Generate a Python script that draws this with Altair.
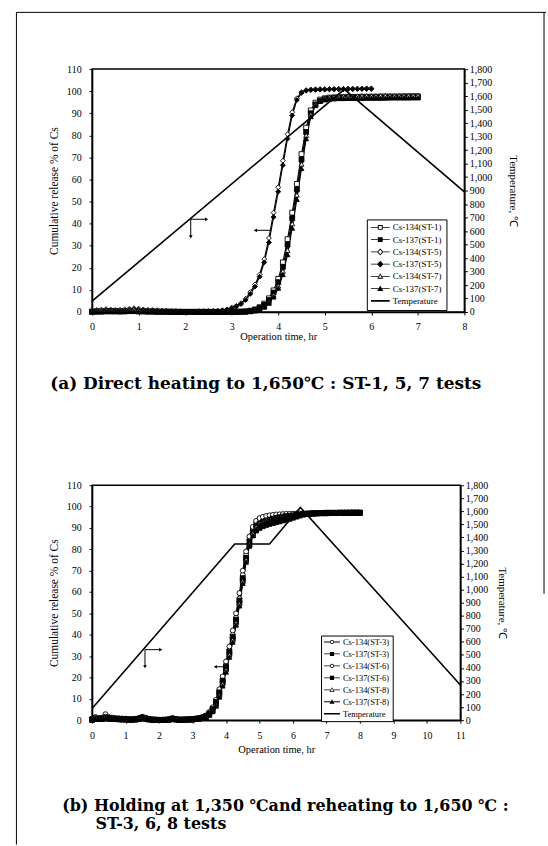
import math
import altair as alt
import pandas as pd

SERIF = "Liberation Serif"
BOLD_SERIF = "DejaVu Serif"

# ---------------- panel (a) data: direct heating ----------------
TIME_A = [0.0, 0.1, 0.2, 0.3, 0.4, 0.5, 0.6, 0.7, 0.8, 0.9,
          1.0, 1.1, 1.2, 1.3, 1.4, 1.5, 1.6, 1.7, 1.8, 1.9,
          2.0, 2.1, 2.2, 2.3, 2.4, 2.5, 2.6, 2.7, 2.8, 2.9,
          3.0, 3.1, 3.2, 3.3, 3.4, 3.5, 3.6, 3.7, 3.8, 3.9,
          4.0, 4.1, 4.2, 4.3, 4.4, 4.5, 4.6, 4.7, 4.8, 4.9,
          5.0, 5.1, 5.2, 5.3, 5.4, 5.5, 5.6, 5.7, 5.8, 5.9,
          6.0, 6.1, 6.2, 6.3, 6.4, 6.5, 6.6, 6.7, 6.8, 6.9, 7.0]

A_CS134_ST1 = [0.2, 0.3, 0.4, 0.5, 0.5, 0.4, 0.4, 0.5, 0.6, 0.6,
               0.5, 0.4, 0.3, 0.3, 0.2, 0.2, 0.2, 0.1, 0.1, 0.1,
               0.1, 0.1, 0.1, 0.1, 0.1, 0.1, 0.1, 0.1, 0.1, 0.1,
               0.1, 0.2, 0.2, 0.3, 0.6, 1.2, 2.2, 3.8, 6.2, 9.8,
               15.0, 22.5, 33.0, 45.0, 58.0, 71.5, 83.5, 91.3, 94.8, 96.2,
               96.8, 97.1, 97.2, 97.3, 97.3, 97.4, 97.4, 97.4, 97.5, 97.5,
               97.5, 97.5, 97.6, 97.6, 97.6, 97.6, 97.6, 97.7, 97.7, 97.7, 97.7]
A_CS137_ST1 = [0.1, 0.2, 0.2, 0.3, 0.3, 0.3, 0.2, 0.3, 0.4, 0.4,
               0.3, 0.3, 0.2, 0.2, 0.1, 0.1, 0.1, 0.1, 0.1, 0.0,
               0.0, 0.0, 0.0, 0.0, 0.0, 0.0, 0.0, 0.0, 0.0, 0.0,
               0.0, 0.1, 0.1, 0.2, 0.4, 0.9, 1.8, 3.2, 5.4, 8.8,
               13.5, 20.5, 30.5, 42.5, 55.5, 69.0, 81.5, 90.0, 94.0, 95.6,
               96.3, 96.6, 96.8, 96.9, 96.9, 97.0, 97.0, 97.0, 97.1, 97.1,
               97.1, 97.1, 97.1, 97.2, 97.2, 97.2, 97.2, 97.2, 97.2, 97.3, 97.3]
A_CS134_ST5 = [0.6, 0.9, 1.1, 1.3, 1.1, 0.9, 1.0, 1.2, 1.4, 1.7,
               1.5, 1.2, 1.0, 0.9, 0.8, 0.6, 0.5, 0.5, 0.4, 0.4,
               0.3, 0.3, 0.3, 0.4, 0.4, 0.5, 0.5, 0.6, 0.8, 1.2,
               2.0, 2.8, 4.0, 6.0, 9.0, 12.5, 17.0, 24.0, 33.5, 45.0,
               56.5, 68.5, 80.5, 90.5, 96.8, 99.6, 100.5, 100.8, 100.9, 101.0,
               101.0, 101.0, 101.1, 101.1, 101.1, 101.2, 101.2, 101.2, 101.2, 101.3,
               101.3]
A_CS137_ST5 = [0.3, 0.5, 0.6, 0.8, 0.7, 0.6, 0.6, 0.7, 0.9, 1.1,
               1.0, 0.8, 0.6, 0.5, 0.5, 0.4, 0.3, 0.3, 0.3, 0.2,
               0.2, 0.2, 0.2, 0.3, 0.3, 0.3, 0.4, 0.5, 0.7, 1.0,
               1.7, 2.5, 3.6, 5.4, 8.2, 11.5, 16.0, 22.5, 31.5, 43.0,
               54.5, 66.5, 78.5, 89.0, 96.0, 99.2, 100.2, 100.5, 100.6, 100.7,
               100.7, 100.8, 100.8, 100.8, 100.9, 100.9, 100.9, 101.0, 101.0, 101.0,
               101.0]
A_CS134_ST7 = [0.4, 0.6, 0.7, 0.9, 0.8, 0.7, 0.7, 0.8, 1.0, 1.2,
               1.0, 0.8, 0.6, 0.5, 0.4, 0.3, 0.3, 0.2, 0.2, 0.2,
               0.1, 0.1, 0.1, 0.1, 0.1, 0.1, 0.1, 0.0, 0.0, 0.0,
               0.0, 0.0, 0.1, 0.1, 0.3, 0.7, 1.4, 2.6, 4.6, 7.6,
               11.8, 18.5, 28.0, 40.0, 53.0, 67.0, 80.0, 89.5, 94.2, 96.0,
               96.9, 97.3, 97.5, 97.6, 97.7, 97.8, 97.8, 97.8, 97.9, 97.9,
               97.9, 97.9, 98.0, 98.0, 98.0, 98.0, 98.0, 98.0, 98.1, 98.1, 98.1]
A_CS137_ST7 = [0.0, 0.1, 0.1, 0.2, 0.2, 0.2, 0.2, 0.2, 0.3, 0.3,
               0.2, 0.2, 0.1, 0.1, 0.1, 0.1, 0.0, 0.0, 0.0, 0.0,
               0.0, 0.0, 0.0, 0.0, 0.0, 0.0, 0.0, 0.0, 0.0, 0.0,
               0.0, 0.0, 0.0, 0.1, 0.2, 0.5, 1.1, 2.2, 4.0, 6.8,
               10.8, 17.0, 26.0, 38.0, 51.0, 65.0, 78.5, 88.5, 93.5, 95.5,
               96.2, 96.5, 96.6, 96.7, 96.7, 96.8, 96.8, 96.8, 96.8, 96.9,
               96.9, 96.9, 96.9, 96.9, 97.0, 97.0, 97.0, 97.0, 97.0, 97.0, 97.0]

TEMP_A_TIME = [0.0, 5.42, 8.0]
TEMP_A_VALUE = [80, 1650, 890]

ARROW_A_X0 = [2.12, 2.12, 3.85]
ARROW_A_X1 = [2.46, 2.12, 3.51]
ARROW_A_Y0 = [42, 42, 37]
ARROW_A_Y1 = [42, 34, 37]
ARROW_A_DIR = ["right", "down", "left"]

# ---------------- panel (b) data: holding and reheating ----------------
TIME_B = [0.0, 0.1, 0.2, 0.3, 0.4, 0.5, 0.6, 0.7, 0.8, 0.9,
          1.0, 1.1, 1.2, 1.3, 1.4, 1.5, 1.6, 1.7, 1.8, 1.9,
          2.0, 2.1, 2.2, 2.3, 2.4, 2.5, 2.6, 2.7, 2.8, 2.9,
          3.0, 3.1, 3.2, 3.3, 3.4, 3.5, 3.6, 3.7, 3.8, 3.9,
          4.0, 4.1, 4.2, 4.3, 4.4, 4.5, 4.6, 4.7, 4.8, 4.9,
          5.0, 5.1, 5.2, 5.3, 5.4, 5.5, 5.6, 5.7, 5.8, 5.9,
          6.0, 6.1, 6.2, 6.3, 6.4, 6.5, 6.6, 6.7, 6.8, 6.9,
          7.0, 7.1, 7.2, 7.3, 7.4, 7.5, 7.6, 7.7, 7.8, 7.9, 8.0]

B_CS134_ST3 = [0.8, 1.5, 1.0, 1.2, 2.8, 1.5, 1.2, 1.0, 0.9, 0.8,
               0.7, 0.5, 0.5, 0.6, 1.0, 1.6, 1.2, 0.6, 0.4, 0.3,
               0.2, 0.2, 0.3, 0.5, 1.0, 0.6, 0.3, 0.3, 0.4, 0.5,
               0.6, 0.8, 1.0, 1.4, 2.0, 3.2, 5.2, 8.5, 13.5, 19.0,
               26.0, 33.0, 40.0, 48.0, 57.0, 68.0, 77.5, 84.5, 89.5, 92.5,
               93.8, 94.5, 95.0, 95.3, 95.6, 95.8, 96.0, 96.1, 96.2, 96.3,
               96.4, 96.5, 96.6, 96.6, 96.7, 96.7, 96.7, 96.8, 96.8, 96.8,
               96.8, 96.9, 96.9, 96.9, 96.9, 96.9, 97.0, 97.0, 97.0, 97.0, 97.0]
B_CS137_ST3 = [0.3, 0.8, 0.6, 0.7, 1.2, 0.9, 0.7, 0.6, 0.5, 0.4,
               0.4, 0.3, 0.3, 0.4, 0.7, 1.2, 0.8, 0.4, 0.2, 0.2,
               0.1, 0.1, 0.2, 0.3, 0.7, 0.4, 0.2, 0.2, 0.3, 0.3,
               0.4, 0.6, 0.8, 1.1, 1.6, 2.6, 4.5, 7.5, 12.0, 17.5,
               24.0, 31.0, 38.0, 46.0, 55.0, 65.5, 75.0, 82.0, 86.5, 88.8,
               90.0, 90.8, 91.4, 91.9, 92.3, 92.7, 93.1, 93.5, 93.9, 94.3,
               94.8, 95.3, 95.8, 96.2, 96.5, 96.7, 96.8, 96.9, 97.0, 97.0,
               97.1, 97.1, 97.1, 97.1, 97.2, 97.2, 97.2, 97.2, 97.2, 97.2, 97.2]
B_CS134_ST6 = [0.5, 1.0, 0.8, 0.9, 1.6, 1.1, 0.9, 0.8, 0.7, 0.6,
               0.5, 0.4, 0.4, 0.5, 0.8, 1.3, 1.0, 0.5, 0.3, 0.2,
               0.2, 0.2, 0.2, 0.4, 0.8, 0.5, 0.3, 0.3, 0.3, 0.4,
               0.5, 0.7, 0.9, 1.3, 2.2, 3.8, 6.0, 9.5, 14.5, 20.5,
               27.5, 34.5, 42.0, 50.0, 59.5, 70.0, 79.0, 86.0, 90.5, 93.3,
               94.6, 95.2, 95.6, 95.9, 96.1, 96.3, 96.4, 96.5, 96.6, 96.6,
               96.7, 96.7, 96.8, 96.8, 96.8, 96.8, 96.9, 96.9, 96.9, 96.9,
               96.9, 96.9, 97.0, 97.0, 97.0, 97.0, 97.0, 97.0, 97.0, 97.0, 97.0]
B_CS137_ST6 = [0.2, 0.6, 0.5, 0.6, 1.0, 0.8, 0.6, 0.5, 0.4, 0.3,
               0.3, 0.2, 0.2, 0.3, 0.6, 1.0, 0.7, 0.3, 0.2, 0.1,
               0.1, 0.1, 0.1, 0.2, 0.5, 0.3, 0.2, 0.2, 0.2, 0.3,
               0.4, 0.6, 0.8, 1.2, 1.9, 3.2, 5.2, 8.5, 13.0, 18.5,
               25.0, 32.0, 39.0, 47.0, 56.0, 66.5, 76.0, 83.5, 88.0, 90.8,
               92.0, 92.8, 93.4, 93.9, 94.3, 94.7, 95.0, 95.3, 95.5, 95.7,
               95.9, 96.1, 96.3, 96.5, 96.6, 96.7, 96.8, 96.8, 96.9, 96.9,
               96.9, 97.0, 97.0, 97.0, 97.0, 97.0, 97.0, 97.1, 97.1, 97.1, 97.1]
B_CS134_ST8 = [0.4, 0.9, 0.7, 0.8, 1.4, 1.0, 0.8, 0.7, 0.6, 0.5,
               0.4, 0.3, 0.3, 0.4, 0.7, 1.1, 0.8, 0.4, 0.2, 0.2,
               0.1, 0.1, 0.2, 0.3, 0.6, 0.4, 0.2, 0.2, 0.2, 0.3,
               0.3, 0.5, 0.7, 1.0, 1.5, 2.6, 4.4, 7.2, 11.5, 17.0,
               23.5, 30.5, 37.5, 45.5, 54.5, 65.0, 75.0, 82.5, 87.5, 90.5,
               92.0, 92.9, 93.5, 94.0, 94.4, 94.8, 95.1, 95.4, 95.6, 95.8,
               96.0, 96.2, 96.4, 96.5, 96.6, 96.7, 96.7, 96.8, 96.8, 96.8,
               96.9, 96.9, 96.9, 96.9, 96.9, 97.0, 97.0, 97.0, 97.0, 97.0, 97.0]
B_CS137_ST8 = [0.1, 0.5, 0.4, 0.5, 0.8, 0.6, 0.5, 0.4, 0.3, 0.3,
               0.2, 0.2, 0.2, 0.2, 0.5, 0.8, 0.6, 0.3, 0.1, 0.1,
               0.1, 0.1, 0.1, 0.2, 0.4, 0.2, 0.1, 0.1, 0.2, 0.2,
               0.2, 0.4, 0.6, 0.9, 1.3, 2.3, 4.0, 6.6, 10.8, 16.0,
               22.5, 29.5, 36.5, 44.5, 53.5, 64.0, 74.0, 81.5, 86.5, 89.5,
               91.2, 92.2, 92.9, 93.5, 94.0, 94.4, 94.8, 95.1, 95.4, 95.7,
               95.9, 96.1, 96.3, 96.4, 96.5, 96.6, 96.7, 96.7, 96.8, 96.8,
               96.8, 96.8, 96.9, 96.9, 96.9, 96.9, 96.9, 96.9, 97.0, 97.0, 97.0]

TEMP_B_TIME = [0.0, 4.26, 5.30, 6.22, 11.0]
TEMP_B_VALUE = [90, 1350, 1350, 1630, 270]

ARROW_B_X0 = [1.58, 1.58, 4.05]
ARROW_B_X1 = [2.05, 1.58, 3.68]
ARROW_B_Y0 = [33, 33, 25]
ARROW_B_Y1 = [33, 25, 25]
ARROW_B_DIR = ["right", "down", "left"]

LABELS_A = ["Cs-134(ST-1)", "Cs-137(ST-1)", "Cs-134(ST-5)", "Cs-137(ST-5)",
            "Cs-134(ST-7)", "Cs-137(ST-7)", "Temperature"]
LABELS_B = ["Cs-134(ST-3)", "Cs-137(ST-3)", "Cs-134(ST-6)", "Cs-137(ST-6)",
            "Cs-134(ST-8)", "Cs-137(ST-8)", "Temperature"]
MARKERS_A = [("square", False), ("square", True), ("diamond", False), ("diamond", True),
             ("triangle", False), ("triangle", True)]
MARKERS_B = [("circle", False), ("square", True), ("circle", False), ("square", True),
             ("triangle", False), ("triangle", True)]

TITLE_A = "(a) Direct heating to 1,650\u2103 : ST-1, 5, 7 tests"
TITLE_B = ["(b) Holding at 1,350 \u2103and reheating to 1,650 \u2103 :",
           "\u200b" + "\u00a0" * 6 + "ST-3, 6, 8 tests"]


# ---------------- helpers ----------------
def long_frame(times, series, names):
    rows = []
    for vals, name in zip(series, names):
        for t, v in zip(times, vals):
            rows.append({"t": t, "v": v, "s": name})
    return pd.DataFrame(rows)


def fmt(p):
    return "%.3f,%.3f" % p


def poly(points):
    return "M" + "L".join(fmt(p) for p in points) + "Z"


def marker_outline(kind, s):
    if kind == "square":
        return [(-s, -s), (s, -s), (s, s), (-s, s)]
    if kind == "diamond":
        d = s * 1.35
        return [(0, -d), (d, 0), (0, d), (-d, 0)]
    if kind == "triangle":
        a = s * 1.25
        return [(0, -a), (a, 0.75 * a), (-a, 0.75 * a)]
    n = 16
    return [(s * math.cos(2 * math.pi * i / n), s * math.sin(2 * math.pi * i / n)) for i in range(n)]


def legend_path(kind, filled, m=0.26, h=0.05, k=0.1):
    if kind == "line":
        return "M-1,-0.09H1V0.09H-1Z"
    outer = marker_outline(kind, m)
    ext = max(abs(p[0]) for p in outer)
    if kind == "triangle":
        ext = ext * 0.6
    path = "M-1,%.3fH%.3fV%.3fH-1Z" % (-h, -ext, h)
    path += "M%.3f,%.3fH1V%.3fH%.3fZ" % (ext, -h, h, ext)
    path += poly(outer)
    if not filled:
        cx = sum(p[0] for p in outer) / len(outer)
        cy = sum(p[1] for p in outer) / len(outer)
        f = (m - k) / m
        if kind == "triangle":
            f = 0.55
        inner = [(cx + (p[0] - cx) * f, cy + (p[1] - cy) * f) for p in outer]
        path += poly(list(reversed(inner)))
    return path


POINT_SHAPE = {"square": "square", "diamond": "diamond", "triangle": "triangle-up", "circle": "circle"}


def panel(times, series, labels, markers, temp_t, temp_v, arrows, xmax, w, h,
          leg, xtitle_pad, rtitle_pad, title, frame=False):
    names = labels[:-1]
    df = long_frame(times, series, names)
    temp_df = pd.DataFrame({"t": temp_t, "temp": temp_v})
    ax0, ax1, ay0, ay1, adir = arrows
    arr_df = pd.DataFrame({"x0": ax0, "x1": ax1, "y0": ay0, "y1": ay1, "dir": adir})

    xscale = alt.Scale(domain=[0, xmax], nice=False, zero=False)
    xaxis = alt.Axis(values=list(range(0, xmax + 1)), title="Operation time, hr",
                     titlePadding=xtitle_pad, labelPadding=7, labelFlush=False)
    yscale = alt.Scale(domain=[0, 110], nice=False)
    yaxis = alt.Axis(values=list(range(0, 111, 10)), title="Cumulative release % of Cs",
                     orient="left", labelPadding=8, titlePadding=7, titleFontSize=11.5)

    def X(f):
        return alt.X(f, type="quantitative", scale=xscale, axis=xaxis)

    def Y(f):
        return alt.Y(f, type="quantitative", scale=yscale, axis=yaxis)

    lines = alt.Chart(df).mark_line(color="black", strokeWidth=1.1).encode(
        x=X("t"), y=Y("v"), detail="s:N")
    pts = alt.Chart(df).mark_point(filled=True, stroke="black", strokeWidth=0.9,
                                   size=24, opacity=1).encode(
        x=X("t"), y=Y("v"),
        shape=alt.Shape("s:N", scale=alt.Scale(domain=names,
                        range=[POINT_SHAPE[k] for k, _ in markers]), legend=None),
        fill=alt.Fill("s:N", scale=alt.Scale(domain=names,
                      range=["black" if f else "white" for _, f in markers]), legend=None))
    arr = alt.Chart(arr_df).mark_rule(color="black", strokeWidth=1).encode(
        x=X("x0"), x2="x1", y=Y("y0"), y2="y1")
    tips = []
    for d, shp in [("right", "triangle-right"), ("down", "triangle-down"), ("left", "triangle-left")]:
        tips.append(alt.Chart(arr_df).transform_filter(alt.datum.dir == d).mark_point(
            shape=shp, filled=True, color="black", size=14, opacity=1).encode(
            x=X("x1"), y=Y("y1")))

    left_layers = [lines, pts, arr] + tips
    if frame:
        one = alt.Data(values=[{}])
        left_layers += [
            alt.Chart(one).mark_rule(color="black", strokeWidth=1).encode(
                x=alt.value(-76), y=alt.value(-57), y2=alt.value(779)),
            alt.Chart(one).mark_rule(color="black", strokeWidth=1).encode(
                x=alt.value(-76), x2=alt.value(456), y=alt.value(-57)),
            alt.Chart(one).mark_rule(color="black", strokeWidth=1).encode(
                x=alt.value(454), y=alt.value(-57), y2=alt.value(527)),
        ]
    left = alt.layer(*left_layers)

    temp_line = alt.Chart(temp_df).mark_line(color="black", strokeWidth=1.6).encode(
        x=X("t"),
        y=alt.Y("temp:Q", scale=alt.Scale(domain=[0, 1800], nice=False),
                axis=alt.Axis(orient="right", values=list(range(0, 1801, 100)), format=",d",
                              title="Temperature, \u2103", labelPadding=2,
                              titlePadding=rtitle_pad, titleFontSize=11)))
    paths = [legend_path(k, f) for k, f in markers] + [legend_path("line", True)]
    dummy = alt.Chart(temp_df).transform_filter("false").mark_point(
        filled=True, color="black", size=leg["size"], opacity=1).encode(
        shape=alt.Shape("lbl:N", scale=alt.Scale(domain=labels, range=paths),
                        legend=alt.Legend(title=None, orient="none", legendX=leg["x"],
                                          legendY=leg["y"], clipHeight=leg["clip"],
                                          rowPadding=leg["row"], padding=leg["pad"],
                                          strokeColor="black", fillColor="white",
                                          labelFont=SERIF, labelFontSize=leg["font"],
                                          labelColor="black", labelOffset=3,
                                          symbolSize=leg["size"], symbolStrokeWidth=0,
                                          symbolFillColor="black", symbolOffset=0)))
    right = alt.layer(temp_line, dummy)
    return alt.layer(left, right).resolve_scale(y="independent", shape="independent").properties(
        width=w, height=h, title=title)


# Panel (a) carries the page frame down to y=779 (its own coordinates), so its
# bottom title is pulled back up with a negative offset.
title_a = alt.TitleParams(TITLE_A, orient="bottom", frame="group", anchor="middle",
                          offset=-471, dx=-12.5, font=BOLD_SERIF, fontSize=17,
                          fontWeight="bold", color="black")
title_b = alt.TitleParams(TITLE_B, orient="bottom", frame="group", anchor="start",
                          offset=43, dx=-30, font=BOLD_SERIF, fontSize=16,
                          fontWeight="bold", color="black", lineHeight=18, align="left")

pa = panel(TIME_A, [A_CS134_ST1, A_CS137_ST1, A_CS134_ST5, A_CS137_ST5, A_CS134_ST7, A_CS137_ST7],
           LABELS_A, MARKERS_A, TEMP_A_TIME, TEMP_A_VALUE,
           (ARROW_A_X0, ARROW_A_X1, ARROW_A_Y0, ARROW_A_Y1, ARROW_A_DIR), 8, 374, 244,
           {"x": 276, "y": 151, "clip": 8, "row": 3.3, "pad": 4, "font": 9, "size": 361},
           0, 16, title_a, frame=True)
pb = panel(TIME_B, [B_CS134_ST3, B_CS137_ST3, B_CS134_ST6, B_CS137_ST6, B_CS134_ST8, B_CS137_ST8],
           LABELS_B, MARKERS_B, TEMP_B_TIME, TEMP_B_VALUE,
           (ARROW_B_X0, ARROW_B_X1, ARROW_B_Y0, ARROW_B_Y1, ARROW_B_DIR), 11, 370, 236,
           {"x": 230, "y": 151, "clip": 7, "row": 3, "pad": 3, "font": 8.5, "size": 256},
           4.5, 9, title_b)

chart = alt.vconcat(pa, pb, spacing=174, bounds="flush").properties(
    padding={"left": 14.5, "top": 8.5, "right": 0, "bottom": 0},
    background="white",
).configure_view(stroke="black", strokeWidth=1.5).configure_axis(
    domainColor="black", domainWidth=1.5, tickColor="black", tickWidth=1, tickSize=3,
    labelFont=SERIF, labelFontSize=10, labelColor="black",
    titleFont=SERIF, titleFontSize=10.5, titleFontWeight="normal", titleColor="black",
    grid=False,
)

chart.save("out.html", embed_options={"renderer": "svg", "actions": False})
